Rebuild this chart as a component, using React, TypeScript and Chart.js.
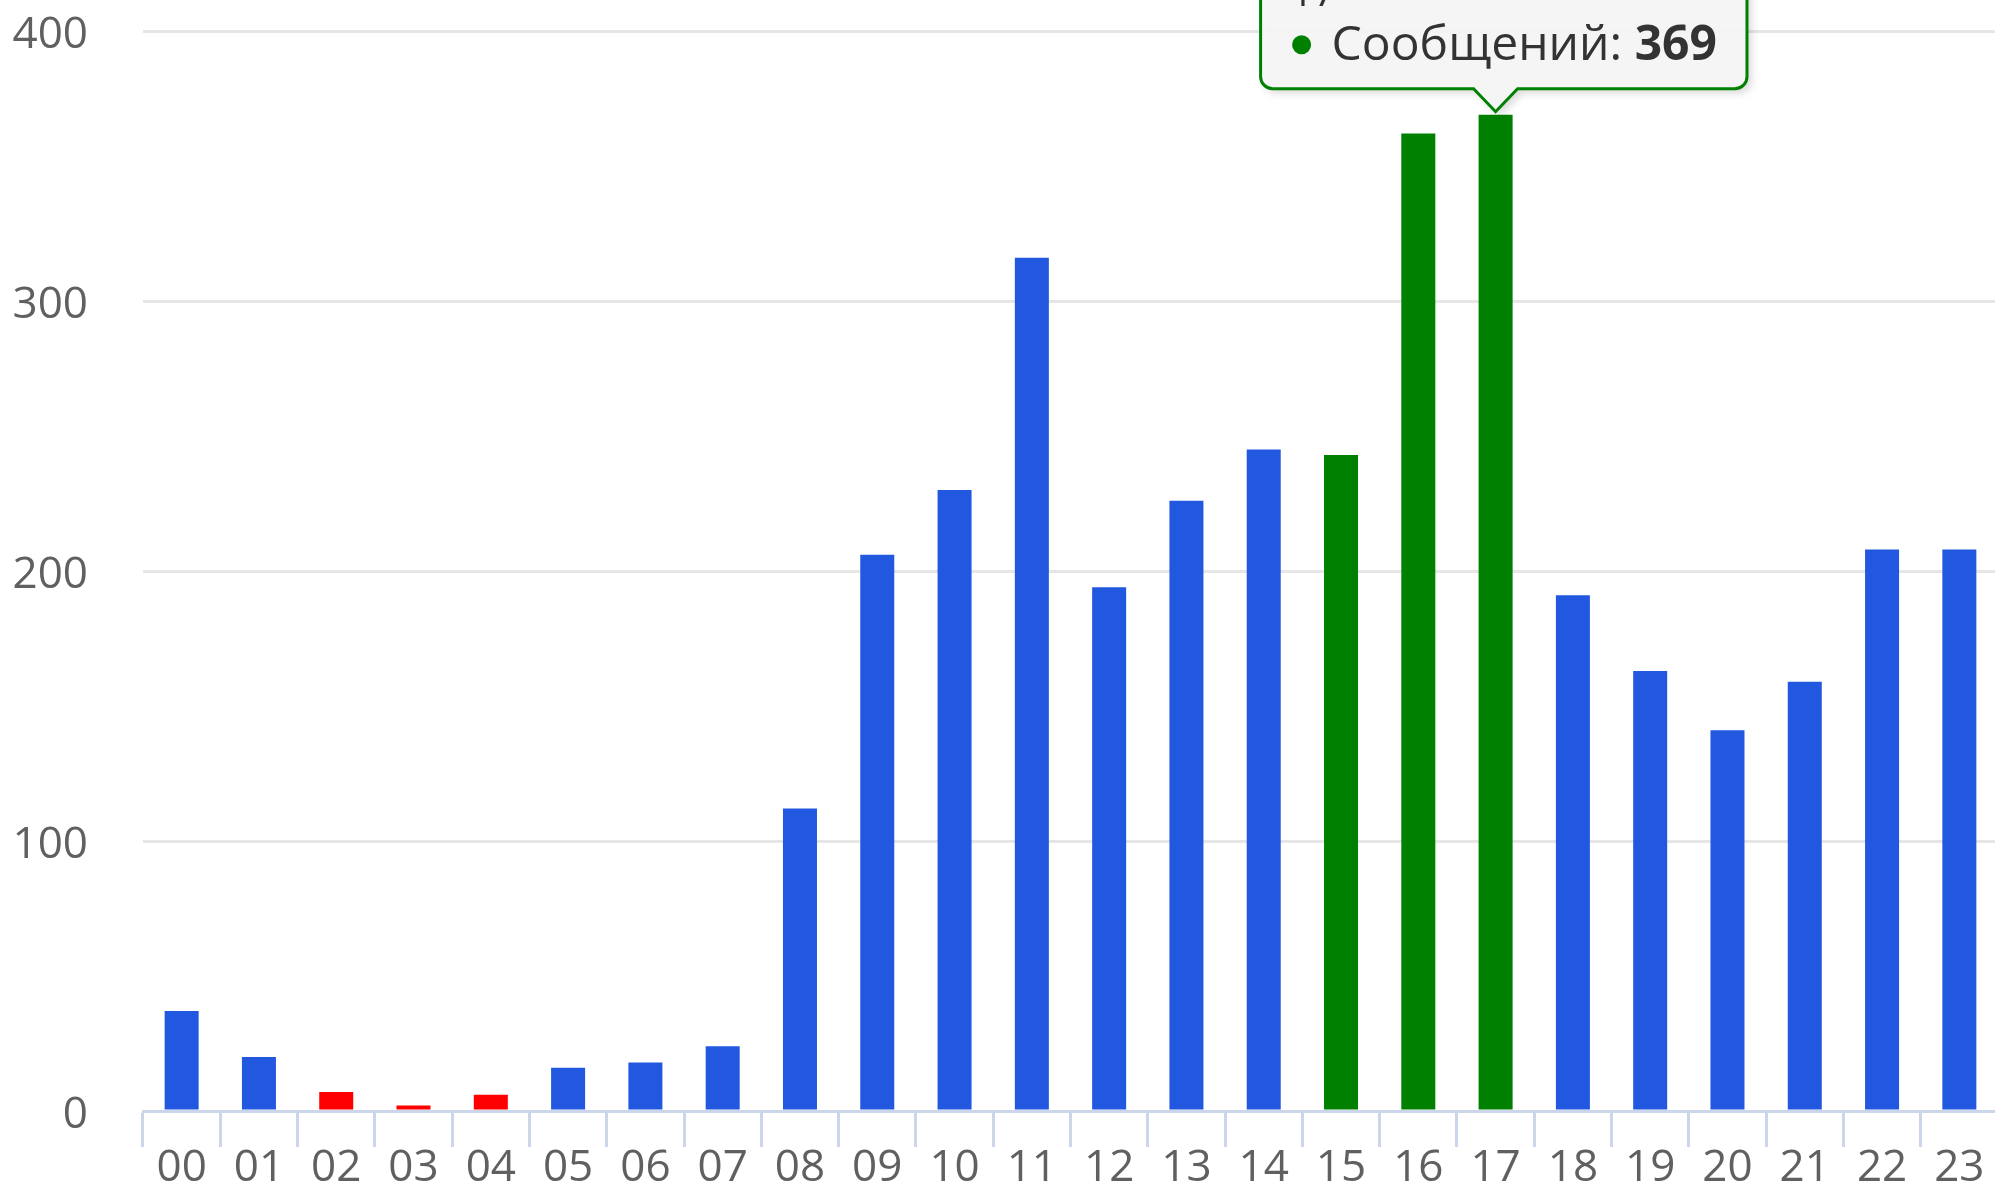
import React, { useEffect, useRef } from "react";
import { Chart, registerables } from "chart.js";

Chart.register(...registerables);

const HOURS = ["00", "01", "02", "03", "04", "05", "06", "07", "08", "09", "10", "11",
  "12", "13", "14", "15", "16", "17", "18", "19", "20", "21", "22", "23"];
const MESSAGES = [37, 20, 7, 2, 6, 16, 18, 24, 112, 206, 230, 316,
  194, 226, 245, 243, 362, 369, 191, 163, 141, 159, 208, 208];
const BLUE = "#2258e0";
const RED = "#ff0000";
const GREEN = "#008000";
const BAR_COLORS = [BLUE, BLUE, RED, RED, RED, BLUE, BLUE, BLUE, BLUE, BLUE, BLUE, BLUE,
  BLUE, BLUE, BLUE, GREEN, GREEN, GREEN, BLUE, BLUE, BLUE, BLUE, BLUE, BLUE];
const SERIES_NAME = "Сообщений";
const Y_MIN = 0;
const Y_MAX = 400;
const Y_STEP = 100;
const HOVER_INDEX = 17;

const FONT = "'Open Sans', 'DejaVu Sans', sans-serif";

const tooltipPlugin = {
  id: "fixedTooltip",
  afterDraw(chart: any) {
    const meta = chart.getDatasetMeta(0);
    const el = meta.data[HOVER_INDEX];
    if (!el) return;
    const { x, y } = el.getProps(["x", "y"], true);
    const ctx: CanvasRenderingContext2D = chart.ctx;
    const color = BAR_COLORS[HOVER_INDEX];
    const label = SERIES_NAME + ": ";
    const value = String(MESSAGES[HOVER_INDEX]);

    ctx.save();
    ctx.font = `normal 48px ${FONT}`;
    const wLabel = ctx.measureText(label).width;
    ctx.font = `bold 48px ${FONT}`;
    const wValue = ctx.measureText(value).width;

    const left = x - 235;
    const textStart = left + 71;
    const right = textStart + wLabel + wValue + 30;
    const bottom = y - 26;
    const top = bottom - 170;
    const tipY = y - 3;
    const r = 12;

    ctx.beginPath();
    ctx.moveTo(left + r, top);
    ctx.lineTo(right - r, top);
    ctx.arcTo(right, top, right, top + r, r);
    ctx.lineTo(right, bottom - r);
    ctx.arcTo(right, bottom, right - r, bottom, r);
    ctx.lineTo(x + 22, bottom);
    ctx.lineTo(x, tipY);
    ctx.lineTo(x - 22, bottom);
    ctx.lineTo(left + r, bottom);
    ctx.arcTo(left, bottom, left, bottom - r, r);
    ctx.lineTo(left, top + r);
    ctx.arcTo(left, top, left + r, top, r);
    ctx.closePath();

    ctx.shadowColor = "rgba(0,0,0,0.18)";
    ctx.shadowOffsetX = 4;
    ctx.shadowOffsetY = 4;
    ctx.shadowBlur = 8;
    ctx.fillStyle = "rgba(247,247,247,0.92)";
    ctx.fill();
    ctx.shadowColor = "transparent";
    ctx.lineWidth = 3;
    ctx.strokeStyle = color;
    ctx.stroke();

    // header
    ctx.fillStyle = "#333333";
    ctx.textBaseline = "alphabetic";
    ctx.textAlign = "left";
    ctx.font = `normal 40px ${FONT}`;
    ctx.fillText(HOURS[HOVER_INDEX], left + 30, bottom - 83);

    // dot
    ctx.beginPath();
    ctx.arc(left + 41, bottom - 44, 9.5, 0, Math.PI * 2);
    ctx.fillStyle = color;
    ctx.fill();

    const baseline = bottom - 29;
    ctx.fillStyle = "#333333";
    ctx.font = `normal 48px ${FONT}`;
    ctx.fillText(label, textStart, baseline);
    ctx.font = `bold 48px ${FONT}`;
    ctx.fillText(value, textStart + wLabel, baseline);
    ctx.restore();
  },
};

export default function App() {
  const ref = useRef<HTMLCanvasElement | null>(null);

  useEffect(() => {
    document.body.style.margin = "0";
    const canvas = ref.current;
    if (!canvas) return;
    const chart = new Chart(canvas, {
      type: "bar",
      data: {
        labels: HOURS,
        datasets: [
          {
            label: SERIES_NAME,
            data: MESSAGES,
            backgroundColor: BAR_COLORS,
            borderWidth: 0,
            barPercentage: 0.44,
            categoryPercentage: 1,
          },
        ],
      },
      options: {
        animation: false,
        responsive: false,
        devicePixelRatio: 1,
        layout: { padding: { top: 31, left: 0, right: 0, bottom: 0 } },
        plugins: {
          legend: { display: false },
          tooltip: { enabled: false },
          title: { display: false },
        },
        scales: {
          x: {
            offset: true,
            grid: {
              display: true,
              offset: true,
              drawOnChartArea: false,
              drawTicks: true,
              tickLength: 36,
              tickWidth: 3,
              tickColor: "#ccd6eb",
            },
            border: { display: true, color: "#ccd6eb", width: 3 },
            ticks: {
              color: "#606060",
              font: { family: FONT, size: 44, lineHeight: 1 },
              padding: -1,
              maxRotation: 0,
              autoSkip: false,
            },
            afterFit(scale: any) {
              scale.height = 88;
              scale.paddingLeft = 0;
              scale.paddingRight = 0;
            },
          },
          y: {
            min: Y_MIN,
            max: Y_MAX,
            grid: {
              color: "#e6e6e6",
              lineWidth: 3,
              drawTicks: false,
            },
            border: { display: false },
            ticks: {
              stepSize: Y_STEP,
              color: "#606060",
              font: { family: FONT, size: 44 },
              padding: 55,
              labelOffset: 4,
            },
            afterFit(scale: any) {
              scale.width = 143;
              scale.paddingTop = 0;
              scale.paddingBottom = 0;
            },
          },
        },
      },
      plugins: [tooltipPlugin],
    });
    return () => chart.destroy();
  }, []);

  return (
    <div style={{ width: 1995, height: 1199, overflow: "hidden", background: "#fff" }}>
      <canvas ref={ref} width={1998} height={1199} style={{ display: "block" }} />
    </div>
  );
}
